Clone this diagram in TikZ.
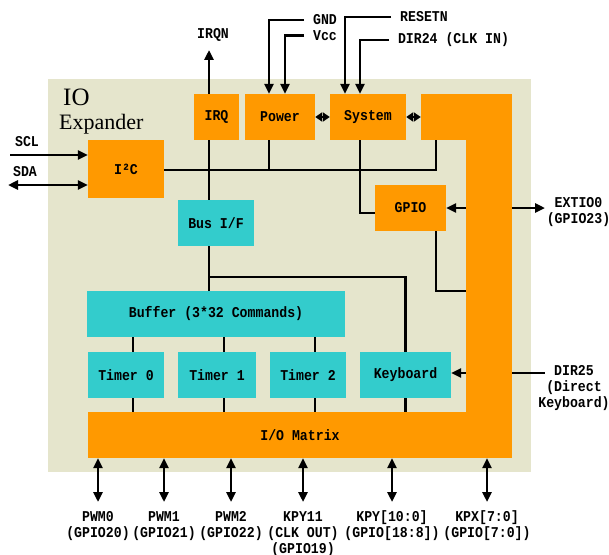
\documentclass[tikz,border=0pt]{standalone}
\usepackage{fontspec}
\usepackage{xcolor}
\usepackage{tikz}
\usetikzlibrary{arrows.meta, calc}
\newfontfamily\monofont[FakeStretch=0.88]{Liberation Mono}
\newfontfamily\titlefont{Liberation Serif}
\definecolor{blkOrange}{HTML}{FF9900}
\definecolor{blkTeal}{HTML}{33CCCC}
\definecolor{chipBeige}{HTML}{E5E5CC}
\definecolor{wireBlack}{HTML}{000000}
\newcommand{\lblfont}{\monofont\bfseries\fontsize{15}{16}\selectfont}

\tikzset{
  blk/.style={inner sep=0pt, minimum height=46pt, font=\lblfont},
  hw/.style={blk, fill=blkOrange},
  sw/.style={blk, fill=blkTeal},
  wire/.style={line width=2.6pt, color=wireBlack},
  arr/.style={wire, -{Triangle[length=10pt, width=9pt]}},
  dbl/.style={wire, {Triangle[length=10pt, width=9pt]}-{Triangle[length=10pt, width=9pt]}},
  tiny dbl/.style={wire, {Triangle[length=7pt, width=9pt]}-{Triangle[length=7pt, width=9pt]}},
  pinlbl/.style={font=\lblfont, align=center, inner sep=1pt, outer sep=8pt},
  sidelbl/.style={font=\lblfont, align=center, inner sep=0pt},
  botlbl/.style={font=\lblfont, align=center, inner sep=0pt, anchor=north},
}

\begin{document}
\begin{tikzpicture}[x=1pt, y=-1pt]
  \useasboundingbox (0,0) rectangle (609,554);
  \fill[chipBeige] (48,79) rectangle (531,472);
  \node[anchor=base west, inner sep=0pt, font=\titlefont\fontsize{25}{25}\selectfont] (ttlIO) at (63,105) {IO};
  \node[anchor=base west, inner sep=0pt, font=\titlefont\fontsize{22}{22}\selectfont] (ttlExp) at (59,129.5) {Expander};

  % orange frame round the right and bottom
  \node[hw, minimum width=46pt, minimum height=364pt] (bar) at (489,276) {};
  \node[hw, minimum width=91pt] (sysR) at (466.5,117) {};
  \node[hw, minimum width=424pt] (mtx) at (300,435) {I/O Matrix};

  % blocks
  \node[hw, minimum width=45pt] (irq) at (216.5,117) {IRQ};
  \node[hw, minimum width=70pt] (power) at (280,117) {Power};
  \node[hw, minimum width=76pt] (system) at (368,117) {System};
  \node[hw, minimum width=76pt, minimum height=58pt] (i2c) at (126,169) {I²C};
  \node[hw, minimum width=71pt] (gpio) at (410.5,208) {GPIO};
  \node[sw, minimum width=76pt] (busif) at (216,223) {Bus I/F};
  \node[sw, minimum width=258pt] (buffer) at (216,314) {Buffer (3*32 Commands)};
  \node[sw, minimum width=76pt] (tmr0) at (126,375) {Timer 0};
  \node[sw, minimum width=78pt] (tmr1) at (217,375) {Timer 1};
  \node[sw, minimum width=76pt] (tmr2) at (308,375) {Timer 2};
  \node[sw, minimum width=91pt] (kbd) at (405.5,375) {Keyboard};

  % pins at the top and left
  \node[pinlbl] (irqn) at (213,34.5) {IRQN};
  \node[pinlbl] (gnd) at (325,20) {GND};
  \node[pinlbl] (vcc) at (325,35.5) {Vcc};
  \node[pinlbl] (rst) at (424,17) {RESETN};
  \node[pinlbl] (dir24) at (453.5,40) {DIR24 (CLK IN)};
  \node[pinlbl] (scl) at (27,142) {SCL};
  \node[pinlbl] (sda) at (25,172) {SDA};
  \coordinate (spine) at (209,0);
  \coordinate (sclIn) at (10,155);
  \coordinate (sdaIn) at (8,185);
  \draw[arr] (irq.north -| spine) -- (irqn.south -| spine);
  \draw[arr] (gnd.west) -| ([xshift=-11pt]power.north);
  \draw[arr] (vcc.west) -| ([xshift=5pt]power.north);
  \draw[arr] (rst.west) -| ([xshift=-23pt]system.north);
  \draw[arr] (dir24.west) -| ([xshift=-8pt]system.north);
  \draw[arr] (sclIn) -- (sclIn -| i2c.west);
  \draw[dbl] (sdaIn) -- (sdaIn -| i2c.west);
  \draw[tiny dbl] (power.east) -- (system.west);
  \draw[tiny dbl] (system.east) -- (sysR.west);

  % internal bus
  \coordinate (busR) at (436,170);
  \coordinate (kbdBr) at (0,277);
  \draw[wire] (i2c.east |- busR) -| (busR |- sysR.south);
  \draw[wire] ([xshift=-11pt]power.south) -- ([xshift=-11pt]power.south |- busR);
  \draw[wire] (irq.south -| spine) -- (busif.north -| spine);
  \draw[wire] (busif.south -| spine) -- (buffer.north -| spine);
  \draw[wire] (spine |- kbdBr) -| (kbd.north);
  \draw[wire] ([xshift=-8pt]system.south) |- ([yshift=-5pt]gpio.west);
  \draw[wire] (gpio.south -| busR) |- (bar.west |- buffer.north);
  \draw[arr] (bar.west |- gpio.east) -- (gpio.east);
  \draw[arr] ([yshift=2pt]bar.west |- kbd.east) -- ([yshift=2pt]kbd.east);
  \foreach \t in {tmr0, tmr1, tmr2} {
    \draw[wire] ([xshift=7pt]\t.north) -- ([xshift=7pt]\t.north |- buffer.south);
    \draw[wire] ([xshift=7pt]\t.south) -- ([xshift=7pt]\t.south |- mtx.north);
  }
  \draw[wire] (kbd.south) -- (kbd.south |- mtx.north);

  % pins on the right
  \coordinate (extTip) at (545,208);
  \coordinate (dirEnd) at (545,373);
  \draw[arr] (bar.east |- extTip) -- (extTip);
  \draw[wire] (bar.east |- dirEnd) -- (dirEnd);
  \node[sidelbl] (extio) at (578.5,212) {EXTIO0\\(GPIO23)};
  \node[sidelbl] (dir25) at (574,388) {DIR25\\(Direct\\Keyboard)};

  % pins at the bottom
  \coordinate (pinTips) at (0,502);
  \foreach \nm/\x/\txt in {pwm0/98/{PWM0\\(GPIO20)}, pwm1/164/{PWM1\\(GPIO21)},
      pwm2/231/{PWM2\\(GPIO22)}, kpy11/303/{KPY11\\(CLK OUT)\\(GPIO19)},
      kpy/392/{KPY[10:0]\\(GPIO[18:8])}, kpx/487/{KPX[7:0]\\(GPIO[7:0])}} {
    \node[botlbl] (\nm) at (\x,510) {\vphantom{[}\txt};
    \draw[dbl] (mtx.south -| \nm.north) -- (pinTips -| \nm.north);
  }
\end{tikzpicture}
\end{document}
